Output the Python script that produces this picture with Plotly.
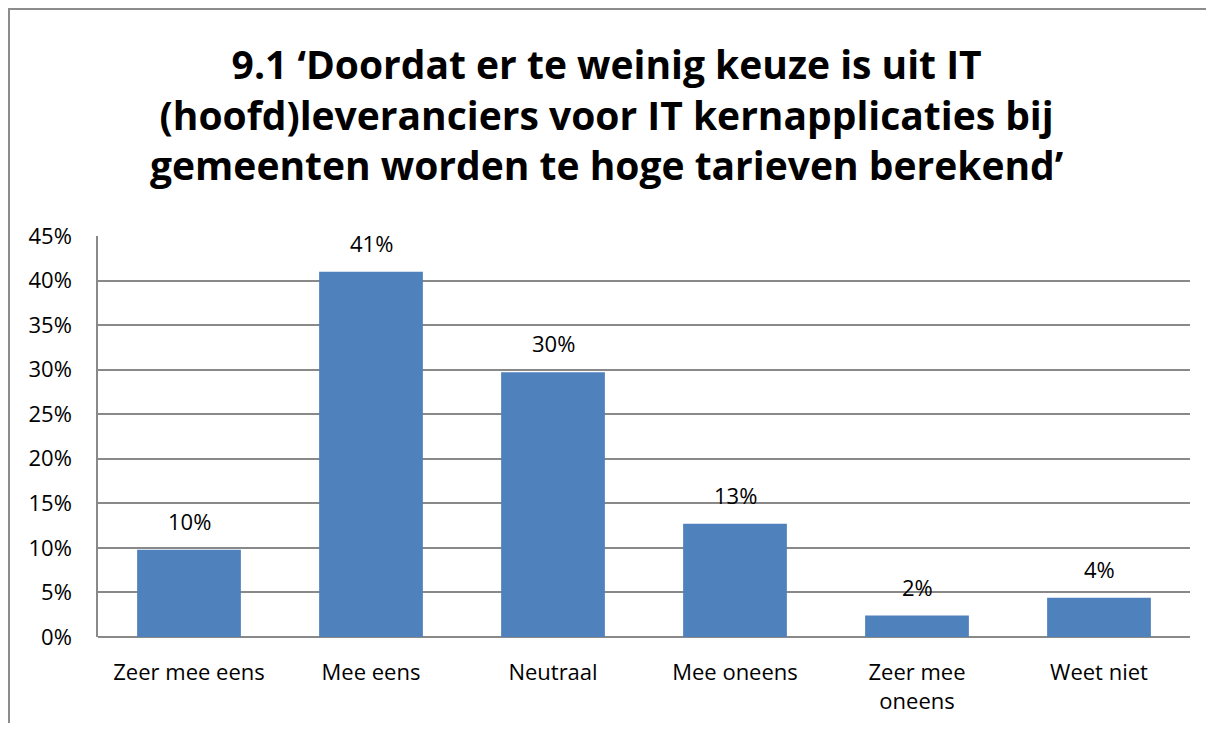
import plotly.graph_objects as go

categories = ["Zeer mee eens", "Mee eens", "Neutraal", "Mee oneens", "Zeer mee<br>oneens", "Weet niet"]
values = [0.098, 0.41, 0.297, 0.127, 0.024, 0.044]
labels = ["10%", "41%", "30%", "13%", "2%", "4%"]

TITLE = (
    "9.1 \u2018Doordat er te weinig keuze is uit IT<br>"
    "(hoofd)leveranciers voor IT kernapplicaties bij<br>"
    "gemeenten worden te hoge tarieven berekend\u2019"
)
FONT = "Open Sans, Lato, sans-serif"
GRID = "#898989"

fig = go.Figure()

fig.add_trace(
    go.Bar(
        x=categories,
        y=values,
        marker=dict(color="#4F81BD", line=dict(width=0)),
        showlegend=False,
        hoverinfo="skip",
    )
)

# value labels above bars
for cat, val, lab in zip(categories, values, labels):
    fig.add_annotation(
        x=cat,
        y=val,
        text=lab,
        showarrow=False,
        yanchor="bottom",
        yshift=12,
        font=dict(family=FONT, size=22, color="black"),
    )

# title as an annotation for exact placement
fig.add_annotation(
    x=0.466,
    y=1.305,
    xref="paper",
    yref="paper",
    text=TITLE,
    showarrow=False,
    xanchor="center",
    yanchor="middle",
    align="center",
    font=dict(family=FONT, size=39, color="black", weight="bold"),
)

# outer chart frame (continues past the right and bottom edges)
fig.add_shape(
    type="rect",
    xref="paper",
    yref="paper",
    x0=-0.0815,
    x1=1.2,
    y0=-0.5,
    y1=1.566,
    line=dict(color="#8c8c8c", width=2),
    fillcolor="rgba(0,0,0,0)",
    layer="below",
)

fig.update_layout(
    width=1198,
    height=715,
    margin=dict(l=90, r=16, t=228, b=86),
    bargap=0.43,
    xaxis=dict(
        showgrid=False,
        showline=False,
        ticks="",
        tickfont=dict(family=FONT, size=22, color="black"),
        ticklabelstandoff=20,
        automargin=False,
        fixedrange=True,
    ),
    yaxis=dict(
        range=[0, 0.45],
        dtick=0.05,
        tickformat=".0%",
        showgrid=True,
        gridcolor=GRID,
        gridwidth=1.5,
        showline=True,
        linecolor=GRID,
        linewidth=1.5,
        zeroline=True,
        zerolinecolor=GRID,
        zerolinewidth=1.5,
        ticks="",
        tickfont=dict(family=FONT, size=22, color="black"),
        ticklabelstandoff=20,
        automargin=False,
        fixedrange=True,
    ),
    plot_bgcolor="white",
    paper_bgcolor="white",
)

fig.write_html("out.html")
